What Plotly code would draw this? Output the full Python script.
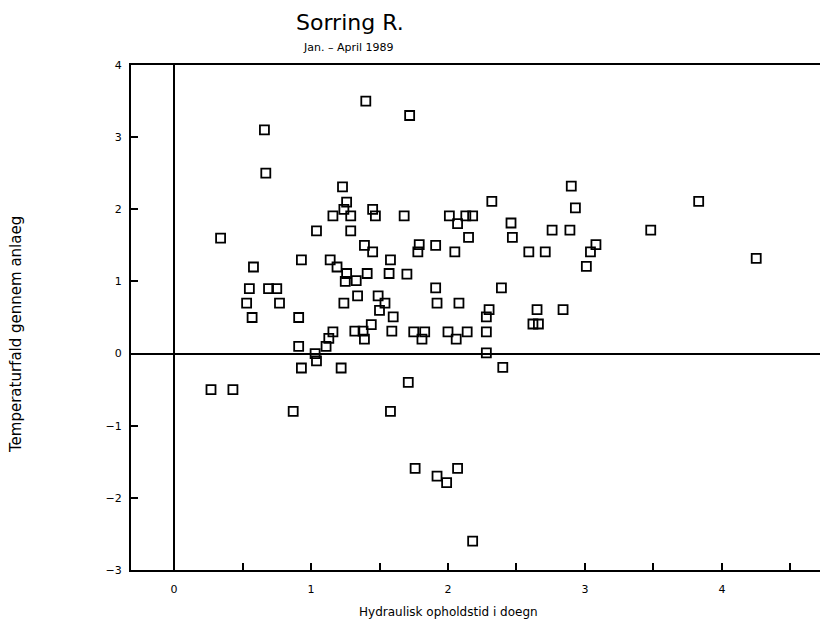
import plotly.graph_objects as go

# Hydraulic retention time (days)
x_vals = [0.27, 0.43, 0.34, 0.53, 0.55, 0.57, 0.58, 0.66, 0.67, 0.69,
          0.75, 0.77, 0.87, 0.91, 0.91, 0.93, 0.93, 1.03, 1.04, 1.04,
          1.11, 1.13, 1.14, 1.16, 1.16, 1.19, 1.22, 1.23, 1.24, 1.24,
          1.25, 1.26, 1.26, 1.29, 1.29, 1.32, 1.33, 1.34, 1.38, 1.39,
          1.39, 1.40, 1.41, 1.44, 1.45, 1.45, 1.47, 1.49, 1.50, 1.54,
          1.57, 1.58, 1.58, 1.59, 1.60, 1.68, 1.70, 1.71, 1.72, 1.75,
          1.76, 1.78, 1.79, 1.81, 1.83, 1.91, 1.91, 1.92, 1.92, 1.99,
          2.00, 2.01, 2.05, 2.06, 2.07, 2.07, 2.08, 2.13, 2.14, 2.15,
          2.18, 2.18, 2.28, 2.28, 2.28, 2.30, 2.32, 2.39, 2.40, 2.46,
          2.47, 2.59, 2.62, 2.65, 2.66, 2.71, 2.76, 2.84, 2.89, 2.90,
          2.93, 3.01, 3.04, 3.08, 3.48, 3.83, 4.25]

# Temperature drop through plant
y_vals = [-0.50, -0.50, 1.60, 0.70, 0.90, 0.50, 1.20, 3.10, 2.50, 0.90,
          0.90, 0.70, -0.80, 0.50, 0.10, 1.30, -0.20, 0.00, -0.10, 1.70,
          0.10, 0.21, 1.30, 0.30, 1.91, 1.20, -0.20, 2.31, 2.00, 0.70,
          1.00, 2.10, 1.11, 1.91, 1.70, 0.31, 1.01, 0.80, 0.31, 0.20,
          1.50, 3.50, 1.11, 0.40, 2.00, 1.41, 1.91, 0.80, 0.60, 0.70,
          1.11, 1.30, -0.80, 0.31, 0.51, 1.91, 1.10, -0.40, 3.30, 0.30,
          -1.59, 1.41, 1.51, 0.20, 0.30, 1.50, 0.91, 0.70, -1.70, -1.79,
          0.30, 1.91, 1.41, 0.20, 1.80, -1.59, 0.70, 1.91, 0.30, 1.61,
          1.91, -2.60, 0.51, 0.30, 0.01, 0.61, 2.11, 0.91, -0.19, 1.81,
          1.61, 1.41, 0.41, 0.61, 0.41, 1.41, 1.71, 0.61, 1.71, 2.32,
          2.02, 1.21, 1.41, 1.51, 1.71, 2.11, 1.32]

x_ticks = [0, 1, 2, 3, 4]
y_ticks = [-3, -2, -1, 0, 1, 2, 3, 4]

title_text = "Sorring R."
subtitle_text = "Jan. \u2013 April 1989"
x_title = "Hydraulisk opholdstid i doegn"
y_title = "Temperaturfald gennem anlaeg"

FONT = "DejaVu Sans"

# figure is placed at (8, 8) in the page because of the default body margin
W, H = 820, 616
L, T = 123, 57
PW = W - L          # plot width  (px)
PH = 505            # plot height (px)
B = H - T - PH


def px_x(page_x):
    return (page_x - 8 - L) / PW


def px_y(page_y):
    return (T + PH - (page_y - 8)) / PH


fig = go.Figure()
fig.add_trace(go.Scatter(
    x=x_vals, y=y_vals, mode="markers",
    marker=dict(symbol="square-open", size=9, color="black",
                line=dict(color="black", width=1.8)),
    showlegend=False, hoverinfo="skip",
))

fig.update_layout(
    width=W, height=H,
    margin=dict(l=L, r=0, t=T, b=B, autoexpand=False),
    paper_bgcolor="white", plot_bgcolor="white",
    font=dict(family=FONT, color="black"),
    xaxis=dict(
        range=[-0.314, 4.774], tickvals=x_ticks, ticktext=[str(v) for v in x_ticks],
        ticks="inside", ticklen=7, tickwidth=1.5, tickcolor="black",
        minor=dict(dtick=0.5, tick0=0, ticks="inside", ticklen=7, tickwidth=1.5, tickcolor="black"),
        showline=True, linecolor="black", linewidth=2, mirror=True,
        showgrid=False, zeroline=True, zerolinecolor="black", zerolinewidth=1.5,
        tickfont=dict(size=11, family=FONT, color="black"),
        ticklabelstandoff=8,
    ),
    yaxis=dict(
        range=[-3, 4], tickvals=y_ticks,
        ticktext=[("\u2212" + str(-v)) if v < 0 else str(v) for v in y_ticks],
        ticks="inside", ticklen=7, tickwidth=1.5, tickcolor="black",
        showline=True, linecolor="black", linewidth=2, mirror=False,
        showgrid=False, zeroline=True, zerolinecolor="black", zerolinewidth=1.8,
        tickfont=dict(size=11, family=FONT, color="black"),
        ticklabelstandoff=5,
    ),
    annotations=[
        dict(text=title_text, xref="paper", yref="paper", x=px_x(350), y=px_y(23),
             showarrow=False, xanchor="center", yanchor="middle",
             font=dict(size=22, family=FONT, color="black")),
        dict(text=subtitle_text, xref="paper", yref="paper", x=px_x(348), y=px_y(48),
             showarrow=False, xanchor="center", yanchor="middle",
             font=dict(size=11, family=FONT, color="black")),
        dict(text=x_title, xref="paper", yref="paper", x=px_x(448), y=px_y(612),
             showarrow=False, xanchor="center", yanchor="middle",
             font=dict(size=12, family=FONT, color="black")),
        dict(text=y_title, xref="paper", yref="paper", x=px_x(16), y=px_y(335),
             showarrow=False, xanchor="center", yanchor="middle", textangle=-90,
             font=dict(size=15, family=FONT, color="black")),
    ],
)

fig.write_html("out.html")
